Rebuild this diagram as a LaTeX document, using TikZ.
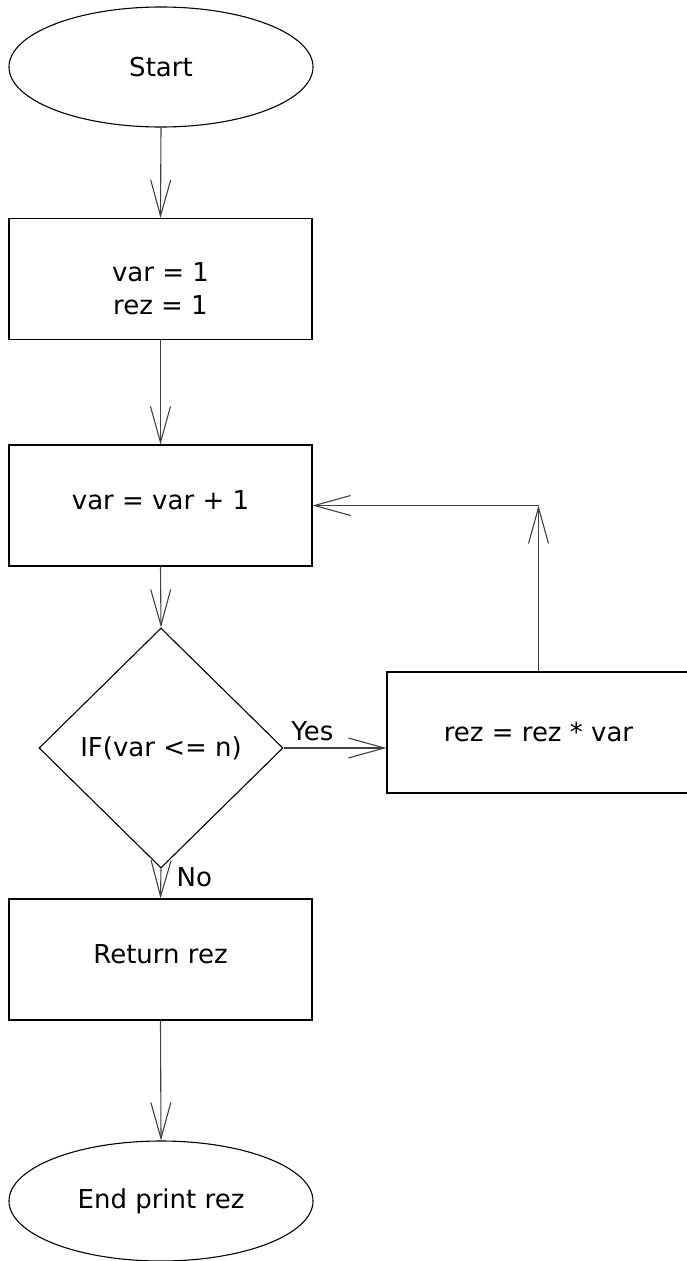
\documentclass[tikz,border=0pt]{standalone}
\usepackage{fontspec}
\setmainfont{DejaVu Sans}
\usetikzlibrary{arrows.meta}
\usetikzlibrary{shapes.geometric}

\begin{document}
\begin{tikzpicture}[x=1pt,y=-1pt,
  every node/.style={font=\fontsize{26}{33}\selectfont},
  term/.style={ellipse,draw=black,line width=1.1pt,minimum width=304pt,minimum height=120pt,inner sep=0pt},
  block/.style={rectangle,draw=black,line width=1.1pt,minimum width=303pt,minimum height=121pt,align=center},
  test/.style={diamond,draw=black,line width=1.1pt,minimum width=244pt,minimum height=240pt,inner sep=0pt},
  flow/.style={draw=black!75,line width=1.1pt,-{Straight Barb[length=36pt,width=20pt]}}]
\useasboundingbox (0,0) rectangle (687,1261);
\node at (161,   67) (start) [term]  {Start};
\node at (160.5,279) (init)  [block] {\raisebox{-12pt}[\height][\depth]{\begin{tabular}{@{}c@{}}var = 1\\rez = 1\end{tabular}}};
\node at (160.5,505.5) (incr) [block,text depth=10pt] {var = var + 1};
\node at (161,  748) (cond)  [test]  {IF(var <= n)};
\node at (538.5,732.5) (mult) [block] {rez = rez * var};
\node at (160.5,959.5) (ret) [block,text depth=10pt] {Return rez};
\node at (161, 1201) (stop)  [term]  {End print rez};
\coordinate (turn) at (mult.north |- incr.east);
\draw [flow] (start.south) -- (init.north);
\draw [flow] (init.south) -- (incr.north);
\draw [flow] (incr.south) -- (cond.north);
\draw [flow] (cond.east) -- (cond.east -| mult.west) node[pos=0.28,above=3pt]{Yes};
\draw [flow] (mult.north) -- (turn);
\draw [flow] (turn) -- (incr.east);
\draw [flow] (cond.south) -- (ret.north) node[pos=0.3,right=12pt]{No};
\draw [flow] (ret.south) -- (stop.north);
\end{tikzpicture}
\end{document}
